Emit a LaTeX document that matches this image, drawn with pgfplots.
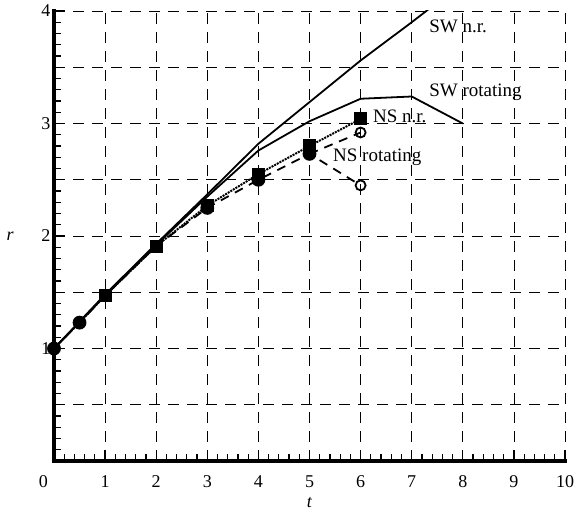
\documentclass[border=0pt]{standalone}
\usepackage{fontspec}
\setmainfont{Liberation Serif}
\usepackage{pgfplots}
\pgfplotsset{compat=1.18}
\begin{document}
\begin{tikzpicture}
\begin{axis}[
  name=main,
  at={(0,0)}, anchor=south west,
  scale only axis, width=511pt, height=450pt,
  xmin=0, xmax=10, ymin=0, ymax=4,
  axis x line*=bottom, axis y line*=left,
  xtick pos=bottom, ytick pos=left,
  axis line style={line width=2.6pt, -},
  xtick={0,...,10},
  xticklabels={\makebox[0pt][r]{0\hspace{6pt}},1,2,3,4,5,6,7,8,9,10},
  ytick={0,0.5,...,4},
  yticklabels={,,1,,2,,3,,4},
  minor x tick num=4, minor y tick num=4,
  tick align=inside,
  major tick length=11pt, minor tick length=7pt,
  every tick/.style={black, line width=1.2pt},
  grid=major,
  major grid style={black, line width=0.8pt, dash pattern=on 11pt off 8pt},
  xticklabel style={font=\fontsize{18}{20}\selectfont, yshift=-11pt},
  yticklabel style={font=\fontsize{18}{20}\selectfont},
  /pgf/number format/assume math mode=true,
  xlabel={\textit{t}}, ylabel={\textit{r}},
  xlabel style={font=\fontsize{18}{20}\selectfont, at={(axis description cs:0.5,-0.093)}, anchor=center},
  ylabel style={font=\fontsize{18}{20}\selectfont, rotate=-90, at={(axis description cs:-0.086,0.5)}, anchor=center},
  clip mode=individual,
]
% SW n.r.
\addplot[line width=1.8pt] coordinates {(0,1)(1,1.48)(2,1.93)(3,2.37)(4,2.82)(5,3.19)(6,3.56)(7,3.90)(8,4.25)};
% SW rotating
\addplot[line width=1.8pt] coordinates {(0,1)(1,1.47)(2,1.92)(3,2.35)(4,2.76)(5,3.02)(6,3.22)(7,3.24)(8,3.0)};
% NS n.r.
\addplot[line width=2pt, densely dotted, mark=square*, mark size=5.5pt, mark options={solid}, mark indices={3,4,5,6,7,8}] coordinates {(0,1)(0.5,1.23)(1,1.47)(2,1.91)(3,2.27)(4,2.55)(5,2.80)(6,3.04)};
% NS rotating
\addplot[line width=1.8pt, dash pattern=on 9pt off 7pt, mark=*, mark size=6pt, mark options={solid}, mark indices={1,2,5,6,7}] coordinates {(0,1)(0.5,1.23)(1,1.47)(2,1.91)(3,2.25)(4,2.50)(5,2.73)(6,2.45)};
\addplot[line width=1.8pt, dash pattern=on 9pt off 7pt] coordinates {(5,2.73)(6,2.92)};
\addplot[only marks, mark=o, mark size=5pt, line width=1.8pt] coordinates {(6,2.92)(6,2.45)};
\node[anchor=west, inner sep=0pt, font=\fontsize{19}{21}\selectfont] at (axis cs:7.34,3.86) {SW n.r.};
\node[anchor=west, inner sep=0pt, font=\fontsize{19}{21}\selectfont] at (axis cs:7.34,3.28) {SW rotating};
\node[anchor=west, inner sep=0pt, font=\fontsize{19}{21}\selectfont] at (axis cs:6.24,3.06) {NS n.r.};
\node[anchor=west, inner sep=0pt, font=\fontsize{19}{21}\selectfont] at (axis cs:5.46,2.70) {NS rotating};
\end{axis}
% thick axis lines (left and bottom)
\draw[line width=3.6pt, line cap=rect] (main.north west) -- (main.south west) -- (main.south east);
\pgfresetboundingbox
\useasboundingbox (-54pt,-54pt) rectangle (522pt,461pt);
\end{tikzpicture}
\end{document}
